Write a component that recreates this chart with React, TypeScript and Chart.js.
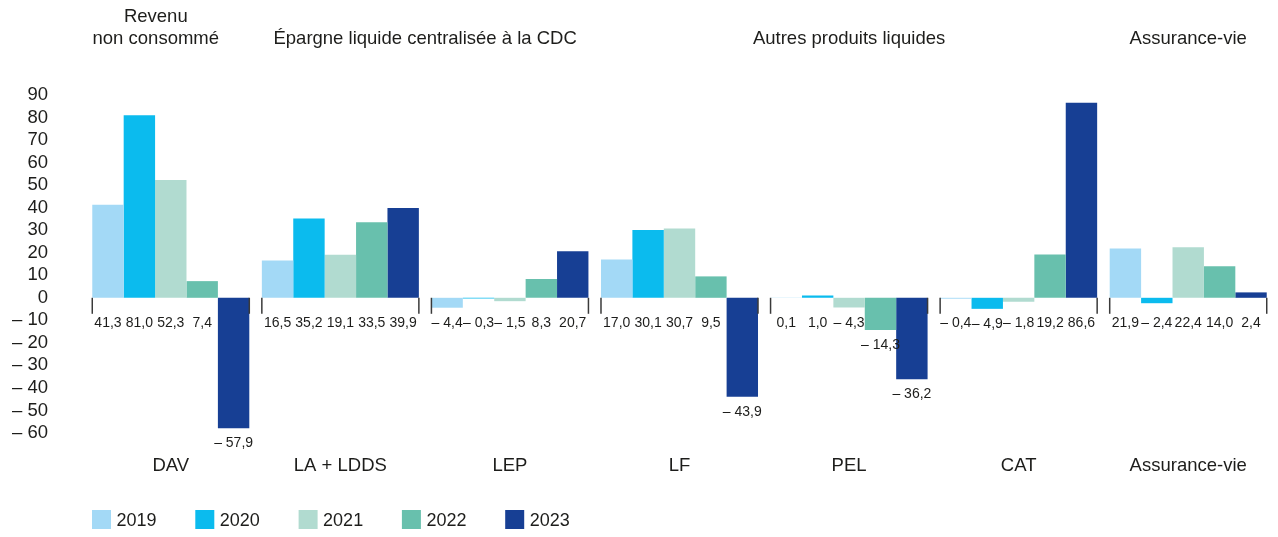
import React, { useEffect, useRef } from "react";
import { Chart, registerables } from "chart.js";

Chart.register(...registerables);

const categories = ["DAV", "LA + LDDS", "LEP", "LF", "PEL", "CAT", "Assurance-vie"];
const years = ["2019", "2020", "2021", "2022", "2023"];
const values2019 = [41.3, 16.5, -4.4, 17.0, 0.1, -0.4, 21.9];
const values2020 = [81.0, 35.2, -0.3, 30.1, 1.0, -4.9, -2.4];
const values2021 = [52.3, 19.1, -1.5, 30.7, -4.3, -1.8, 22.4];
const values2022 = [7.4, 33.5, 8.3, 9.5, -14.3, 19.2, 14.0];
const values2023 = [-57.9, 39.9, 20.7, -43.9, -36.2, 86.6, 2.4];
const colors = ["#a3d9f6", "#0bbbee", "#b1dbd0", "#68c0ad", "#173f94"];
const headers = [
  { lines: ["Revenu", "non consommé"], from: 0, to: 0, dx: -15 },
  { lines: ["Épargne liquide centralisée à la CDC"], from: 1, to: 2, dx: 0 },
  { lines: ["Autres produits liquides"], from: 3, to: 5, dx: 0 },
  { lines: ["Assurance-vie"], from: 6, to: 6, dx: 0 },
];

const FONT = "'Liberation Sans', Arial, Helvetica, sans-serif";
const TEXT = "#1d1d1b";
const CAT_PCT = 0.926;

const fmt = (v: number) => {
  const s = Math.abs(v).toFixed(1).replace(".", ",");
  return v < 0 ? "\u2013 " + s : s;
};

const decorPlugin = {
  id: "decor",
  afterDatasetsDraw(chart: any) {
    const ctx = chart.ctx;
    const x = chart.scales.x;
    const y = chart.scales.y;
    const zero = y.getPixelForValue(0);
    const catW = (x.getPixelForValue(1) - x.getPixelForValue(0)) * CAT_PCT;
    ctx.save();
    // group edge ticks
    ctx.strokeStyle = "#3a3a3a";
    ctx.lineWidth = 1.5;
    categories.forEach((_, i) => {
      const c = x.getPixelForValue(i);
      [c - catW / 2, c + catW / 2].forEach((px) => {
        ctx.beginPath();
        ctx.moveTo(px, zero);
        ctx.lineTo(px, zero + 16);
        ctx.stroke();
      });
    });
    // value labels
    ctx.fillStyle = TEXT;
    ctx.font = `14px ${FONT}`;
    ctx.textAlign = "center";
    ctx.textBaseline = "middle";
    chart.data.datasets.forEach((ds: any, di: number) => {
      const meta = chart.getDatasetMeta(di);
      meta.data.forEach((bar: any, i: number) => {
        const v = ds.data[i];
        const bottom = Math.max(bar.y, bar.base);
        const ly = Math.max(zero + 25, bottom + 15);
        ctx.fillText(fmt(v), bar.x, ly);
      });
    });
    // headers
    ctx.font = `18.5px ${FONT}`;
    headers.forEach((h) => {
      const cx = (x.getPixelForValue(h.from) + x.getPixelForValue(h.to)) / 2 + h.dx;
      const n = h.lines.length;
      h.lines.forEach((line, li) => {
        const ly = 39 - (n - 1 - li) * 22;
        ctx.fillText(line, cx, ly);
      });
    });
    // legend
    ctx.textAlign = "left";
    ctx.font = `18px ${FONT}`;
    chart.data.datasets.forEach((ds: any, di: number) => {
      const lx = 92 + di * 103.3;
      ctx.fillStyle = ds.backgroundColor;
      ctx.fillRect(lx, 510, 19, 19);
      ctx.fillStyle = TEXT;
      ctx.fillText(ds.label, lx + 24.5, 521);
    });
    ctx.restore();
  },
};

export default function App() {
  const ref = useRef<HTMLCanvasElement>(null);
  useEffect(() => {
    document.body.style.margin = "0";
    const seriesValues = [values2019, values2020, values2021, values2022, values2023];
    const chart = new Chart(ref.current as HTMLCanvasElement, {
      type: "bar",
      data: {
        labels: categories,
        datasets: years.map((yr, i) => ({
          label: yr,
          data: seriesValues[i],
          backgroundColor: colors[i],
          borderWidth: 0,
          barPercentage: 1,
          categoryPercentage: CAT_PCT,
        })),
      },
      options: {
        responsive: false,
        animation: false,
        layout: { padding: { top: 95, bottom: 60, left: 0, right: 5 } },
        plugins: {
          legend: { display: false },
          tooltip: { enabled: false },
        },
        scales: {
          x: {
            afterFit: (s: any) => {
              s.height = 44;
            },
            grid: { display: false, drawTicks: false },
            border: { display: false },
            ticks: {
              padding: 22,
              maxRotation: 0,
              autoSkip: false,
              color: TEXT,
              font: { family: FONT, size: 18.5 },
            },
          },
          y: {
            min: -60,
            max: 90,
            afterFit: (s: any) => {
              s.width = 86;
            },
            grid: { display: false, drawTicks: false },
            border: { display: false },
            ticks: {
              stepSize: 10,
              autoSkip: false,
              padding: 38,
              color: TEXT,
              font: { family: FONT, size: 18.5 },
              callback: (v: any) => (v < 0 ? "\u2013 " + Math.abs(v) : String(v)),
            },
          },
        },
      },
      plugins: [decorPlugin],
    });
    return () => chart.destroy();
  }, []);
  return <canvas ref={ref} width={1278} height={537} />;
}
